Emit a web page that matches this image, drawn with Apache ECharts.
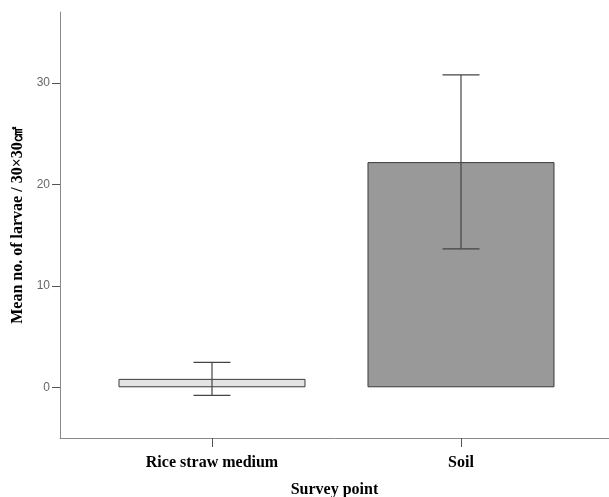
<!DOCTYPE html>
<html>
<head>
<meta charset="utf-8">
<script src="https://cdn.jsdelivr.net/npm/echarts@6/dist/echarts.min.js"></script>
<style>html,body{margin:0;padding:0;background:#fff;}#c{width:609px;height:497px;}</style>
</head>
<body>
<div id="c"></div>
<script>
var categories = ['Rice straw medium', 'Soil'];
var means = [0.83, 22.2];
var errLow = [-0.79, 13.65];
var errHigh = [2.45, 30.8];
var barColors = ['#e4e4e4', '#999999'];
var yTicks = [0, 10, 20, 30];

var chart = echarts.init(document.getElementById('c'), null, {renderer: 'canvas'});
var barData = means.map(function (v, i) {
  return { value: [i, v], itemStyle: { color: barColors[i] } };
});
var errData = means.map(function (v, i) { return [i, errLow[i], errHigh[i]]; });

chart.setOption({
  animation: false,
  grid: { left: 60, right: 0, top: 12, bottom: 59, containLabel: false, outerBoundsMode: 'none' },
  xAxis: {
    type: 'value', min: -0.6104, max: 1.5944,
    splitLine: { show: false },
    axisLine: { onZero: false, lineStyle: { color: '#8a8a8a', width: 1 } },
    axisTick: { show: true, customValues: [0, 1], length: 9, lineStyle: { color: '#555' } },
    axisLabel: {
      customValues: [0, 1], margin: 17,
      formatter: function (v) { return categories[Math.round(v)]; },
      fontFamily: 'Liberation Serif', fontWeight: 'bold', fontSize: 16, color: '#000'
    },
    name: 'Survey point', nameLocation: 'middle', nameGap: 44,
    nameTextStyle: { fontFamily: 'Liberation Serif', fontWeight: 'bold', fontSize: 16, color: '#000' }
  },
  yAxis: {
    type: 'value', min: -5, max: 37,
    splitLine: { show: false },
    axisLine: { show: true, onZero: false, lineStyle: { color: '#8a8a8a', width: 1 } },
    axisTick: { show: true, customValues: yTicks, length: 8, lineStyle: { color: '#555' } },
    axisLabel: {
      customValues: yTicks, margin: 10,
      fontFamily: 'Liberation Sans', fontSize: 12, color: '#666'
    },
    name: 'Mean no. of larvae / 30×30㎠', nameLocation: 'middle', nameGap: 30,
    nameTextStyle: { fontFamily: 'Liberation Serif', fontWeight: 'bold', fontSize: 16, color: '#000' }
  },
  series: [
    {
      type: 'bar', data: barData, barWidth: 187,
      itemStyle: { borderColor: '#3a3a3a', borderWidth: 1 }
    },
    {
      type: 'custom', data: errData, z: 10,
      renderItem: function (params, api) {
        var x = api.value(0);
        var lo = api.coord([x, api.value(1)]);
        var hi = api.coord([x, api.value(2)]);
        var cap = 18.5;
        var st = { stroke: '#444', lineWidth: 1.2 };
        return {
          type: 'group',
          children: [
            { type: 'line', shape: { x1: lo[0], y1: lo[1], x2: hi[0], y2: hi[1] }, style: st },
            { type: 'line', shape: { x1: lo[0] - cap, y1: lo[1], x2: lo[0] + cap, y2: lo[1] }, style: st },
            { type: 'line', shape: { x1: hi[0] - cap, y1: hi[1], x2: hi[0] + cap, y2: hi[1] }, style: st }
          ]
        };
      }
    }
  ]
});
</script>
</body>
</html>
